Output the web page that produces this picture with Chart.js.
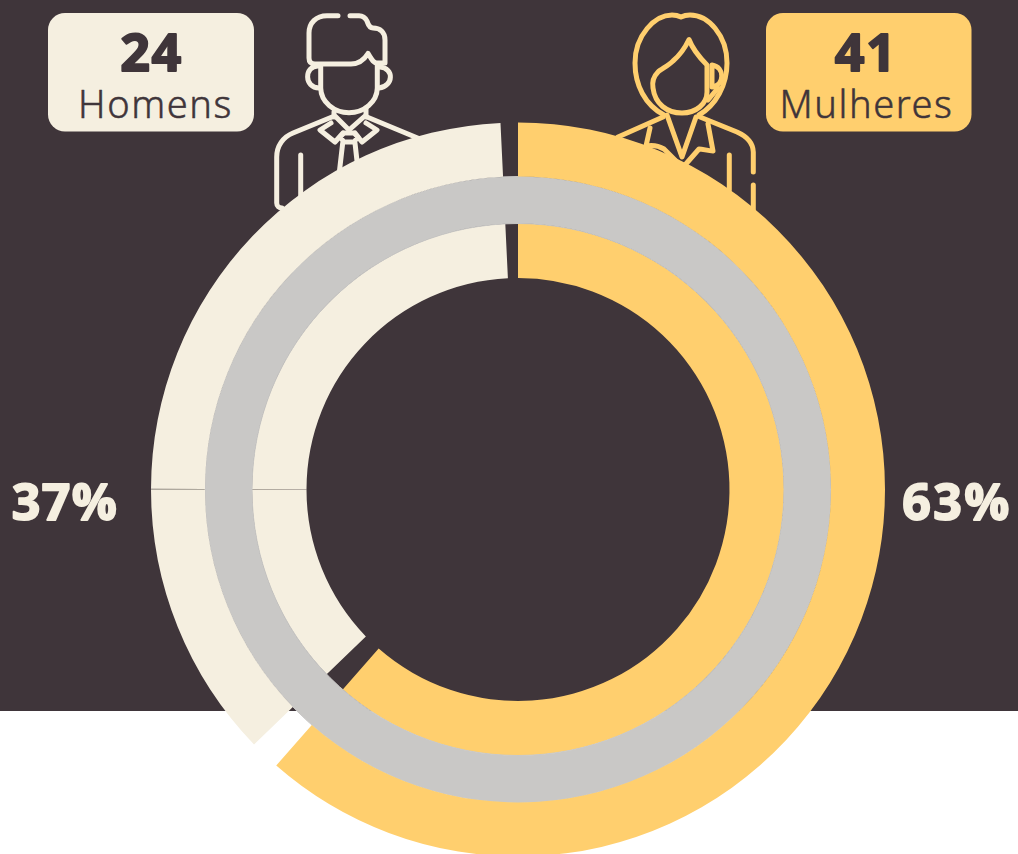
<!DOCTYPE html>
<html lang="pt">
<head>
<meta charset="utf-8">
<title>Homens e Mulheres</title>
<script src="https://cdn.jsdelivr.net/npm/chart.js@4"></script>
<style>
html,body{margin:0;padding:0;width:1018px;height:854px;overflow:hidden;background:#fff}
#stage{position:relative;width:1018px;height:854px;overflow:hidden;background:#fff}
#dark{position:absolute;left:0;top:0;width:1018px;height:711px;background:#3f353a}
#art{position:absolute;left:0;top:0;width:1018px;height:854px}
#c{position:absolute;left:0;top:0}
.line{fill:none;stroke-width:5;stroke-linecap:round;stroke-linejoin:round}
.num{font-family:"Open Sans",sans-serif;font-weight:700;stroke-width:1.9;stroke-linejoin:round;letter-spacing:1.5px}
.lab{font-family:"Noto Sans",sans-serif;font-weight:300;fill:#3f353a;stroke:#3f353a;stroke-width:.5;stroke-linejoin:round;letter-spacing:1.6px}
</style>
</head>
<body>
<div id="stage">
<div id="dark"></div>
<svg id="art" viewBox="0 0 1018 854" xmlns="http://www.w3.org/2000/svg">
  <rect x="48" y="13" width="206" height="118.500" rx="17" fill="#f5efe0"/>
  <rect x="766" y="13" width="205.500" height="118.500" rx="17" fill="#ffcf6e"/>
  <text class="num" x="151.500" y="71" font-size="52" text-anchor="middle" fill="#3f353a" stroke="#3f353a">24</text>
  <text class="lab" x="155.500" y="118" font-size="38" text-anchor="middle">Homens</text>
  <text class="num" x="866" y="71" font-size="52" text-anchor="middle" fill="#3f353a" stroke="#3f353a">41</text>
  <text class="lab" x="866.500" y="118" font-size="38" text-anchor="middle">Mulheres</text>
  <text class="num" x="65" y="520" font-size="50" text-anchor="middle" fill="#f5efe0" stroke="#f5efe0">37%</text>
  <text class="num" x="957" y="520" font-size="50" text-anchor="middle" fill="#f5efe0" stroke="#f5efe0" style="letter-spacing:2.5px">63%</text>
  <g class="line" stroke="#f5efe0">
    <path d="M338 15.700H327C316 15.700 309 23 309 33V58C309 62 311 64 315 64H351C358 64 364 60 368 53.500C371 58 373 63 377 63H385V40C385 32 380 28 373 28C369 28 368 24 367 21C365 17 362 15.700 359 15.700H350"/>
    <path d="M320.700 66V88C321 102 334 112.700 349 112.700C364 112.700 377 102 377.300 88V65"/>
    <path d="M318 66C304 66 304 88 319 88M380 67C394 68 394 86 379 88"/>
    <path d="M334 112V117M366 108V117M334 115L349 130L366 115"/>
    <path d="M332 117L293 133C283 137 276.700 146 276.700 157V203C276.700 206 279 208 282 208M367 117L420 139"/>
    <path d="M300.700 155V197"/>
    <path d="M331 123L320 130L335 142L343 133M366 123L377 130L362 142L355 133"/>
    <path d="M344 133H354L358 137L354 142H344L340 137Z"/>
    <path d="M342.700 143L339 175M355 143L358 170"/>
  </g>
  <g class="line" stroke="#ffcf6e">
    <path d="M664 115C645 105 635 85 635 63C635 35 655 15 672 15C676 15 679 16 681 17C683 16 686 15 690 15C708 15 727 35 727 63C727 85 716 105 699 115"/>
    <path d="M689 39.500C684 50 680 55 673 61C668 66 661 69 658 72C653 77 652 82 653 88C655 104 667 113 682 113C696 113 707 104 707 92V65C700 58 693 50 689 39.500Z"/>
    <path d="M712 65C725 67 725 85 712 87M712 66V86M708 100L718 88"/>
    <path d="M663 117L618 137M700 117L737 132C746 136 753 143 753.300 152V172M753.300 185V210"/>
    <path d="M729.300 155V190"/>
    <path d="M667 115L682 157L696 117"/>
    <path d="M650 128L646 146C652 145 659 146 664 149L680 165M708 124L713 151C708 151 703 149 699 149L685 165"/>
  </g>
</svg>
<canvas id="c" width="1018" height="900" style="width:1018px;height:900px"></canvas>
</div>
<script>
const sliceLabels = ['Mulheres', 'vão', 'Homens', 'divisa', 'Homens', 'vão'];
const outerShares = [61.44, 1.33, 12.22, 0.03, 24.21, 0.76];
const middleShares = [100];
const innerShares = [61.44, 1.33, 12.22, 0.03, 24.21, 0.76];
const sliceColors = ['#ffcf6e', 'rgba(0,0,0,0)', '#f5efe0', '#c6bfb0', '#f5efe0', 'rgba(0,0,0,0)'];
const middleColors = ['#c9c8c6'];

new Chart(document.getElementById('c'), {
  type: 'doughnut',
  data: {
    labels: sliceLabels,
    datasets: [
      { data: outerShares, backgroundColor: sliceColors, borderWidth: 0, weight: 54 },
      { data: middleShares, backgroundColor: middleColors, borderColor: middleColors, borderWidth: 1, weight: 47 },
      { data: innerShares, backgroundColor: sliceColors, borderWidth: 0, weight: 54.5 }
    ]
  },
  options: {
    responsive: false,
    animation: false,
    cutout: 211.5,
    layout: { padding: { left: 151, right: 133, top: 122.5, bottom: 43.5 } },
    plugins: { legend: { display: false }, tooltip: { enabled: false } }
  }
});
</script>
</body>
</html>
